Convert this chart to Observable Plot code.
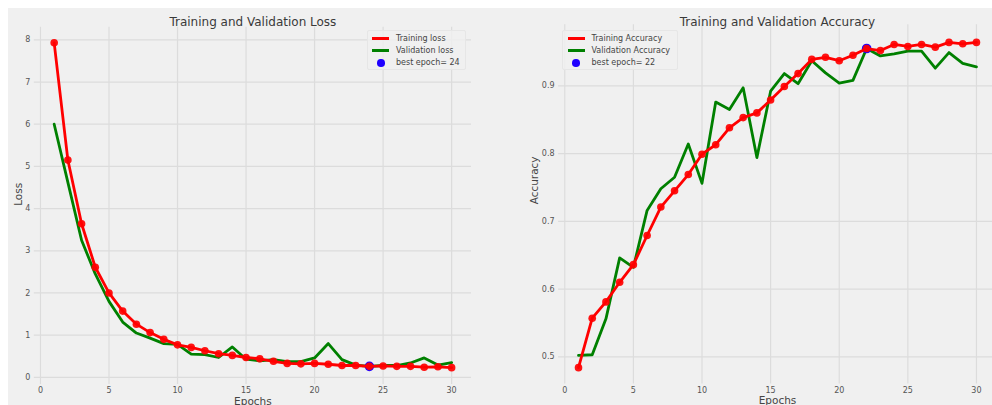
<!DOCTYPE html>
<html>
<head>
<meta charset="utf-8">
<script src="https://cdn.jsdelivr.net/npm/d3@7"></script>
<script src="https://cdn.jsdelivr.net/npm/@observablehq/plot@0.6"></script>
<style>
  html, body { margin: 0; padding: 0; background: #ffffff; }
  #fig { position: relative; width: 992px; height: 405px; overflow: hidden; background: #ffffff; font-family: "DejaVu Sans", sans-serif; }
  #bg { position: absolute; left: 8px; top: 8px; width: 984px; height: 397px; background: #f0f0f0; }
  .panel { position: absolute; top: 0; }
  .panel svg { overflow: visible; }
  .legend { position: absolute; background: rgba(240,240,240,0.8); border: 1px solid #e6e6e6; border-radius: 2px; box-sizing: border-box; font-size: 8px; color: #444; }
  .legend .sw { position: absolute; }
  .legend .txt { position: absolute; line-height: 12px; white-space: nowrap; }
</style>
</head>
<body>
<div id="fig">
  <div id="bg"></div>
  <div id="left" class="panel" style="left:0px"></div>
  <div id="right" class="panel" style="left:496px"></div>
</div>
<script>
// ---- data ----
const epochs = [1,2,3,4,5,6,7,8,9,10,11,12,13,14,15,16,17,18,19,20,21,22,23,24,25,26,27,28,29,30];
const trainLoss = [7.93,5.15,3.64,2.61,2.00,1.57,1.26,1.06,0.90,0.77,0.71,0.63,0.56,0.52,0.47,0.44,0.38,0.33,0.32,0.33,0.31,0.28,0.28,0.26,0.27,0.26,0.26,0.24,0.25,0.23];
const valLoss   = [6.00,4.62,3.25,2.45,1.80,1.31,1.05,0.93,0.80,0.78,0.55,0.54,0.47,0.72,0.43,0.39,0.42,0.37,0.37,0.46,0.80,0.42,0.29,0.26,0.28,0.28,0.34,0.46,0.29,0.35];
const trainAcc  = [0.484,0.557,0.581,0.610,0.636,0.679,0.721,0.745,0.769,0.799,0.813,0.838,0.853,0.860,0.879,0.899,0.918,0.939,0.942,0.937,0.945,0.955,0.952,0.961,0.958,0.961,0.957,0.964,0.962,0.964];
const valAcc    = [0.502,0.503,0.556,0.646,0.632,0.716,0.748,0.765,0.814,0.756,0.876,0.865,0.897,0.794,0.892,0.918,0.903,0.937,0.919,0.904,0.908,0.955,0.944,0.947,0.951,0.951,0.926,0.949,0.933,0.928];
const bestLossEpoch = 24;
const bestAccEpoch = 22;
const xTicks = [0,5,10,15,20,25,30];
const lossTicks = [0,1,2,3,4,5,6,7,8];
const accTicks = [0.5,0.6,0.7,0.8,0.9];
const titles = ["Training and Validation Loss", "Training and Validation Accuracy"];
const yLabels = ["Loss", "Accuracy"];
const xLabel = "Epochs";
const legendLoss = ["Training loss", "Validation loss", "best epoch= " + bestLossEpoch];
const legendAcc = ["Training Accuracy", "Validation Accuracy", "best epoch= " + bestAccEpoch];

const RED = "#ff0000", GREEN = "#008000", BLUE = "#1f00ff", GRID = "#dcdcdc";

function panel({train, val, best, yTicks, yDomain, xDomain, margins, title, titleDy, yLabel, yLabelDx, tickFmt}) {
  const rows = epochs.map((e, i) => ({epoch: e, train: train[i], val: val[i]}));
  const bestRow = rows.filter(r => r.epoch === best);
  const xMid = (-0.45 + 31.45) / 2;
  return Plot.plot({
    width: 496, height: 405,
    ...margins,
    style: {background: "transparent", fontFamily: "DejaVu Sans, sans-serif", fontSize: "8px", color: "#555", overflow: "visible"},
    x: {domain: xDomain},
    y: {domain: yDomain},
    marks: [
      Plot.gridX(xTicks, {stroke: GRID, strokeOpacity: 1, strokeWidth: 1.2}),
      Plot.gridY(yTicks, {stroke: GRID, strokeOpacity: 1, strokeWidth: 1.2}),
      Plot.axisX(xTicks, {tickSize: 0, tickPadding: 3, label: null, fill: "#555"}),
      Plot.axisY(yTicks, {tickSize: 0, tickPadding: 4, label: null, fill: "#555", tickFormat: tickFmt}),
      Plot.line(rows, {x: "epoch", y: "val", stroke: GREEN, strokeWidth: 2.8}),
      Plot.dot(bestRow, {x: "epoch", y: "val", r: 4.8, fill: BLUE, stroke: "none"}),
      Plot.line(rows, {x: "epoch", y: "train", stroke: RED, strokeWidth: 2.8}),
      Plot.dot(rows, {x: "epoch", y: "train", r: 3.8, fill: RED, stroke: "none", fillOpacity: 0.92}),
      Plot.text([title], {x: () => xMid, frameAnchor: "top", dy: titleDy, fontSize: 12, fill: "#3a3a3a", text: d => d}),
      Plot.text([xLabel], {x: () => xMid, frameAnchor: "bottom", dy: 20, fontSize: 10.5, fill: "#444", text: d => d}),
      Plot.text([yLabel], {frameAnchor: "left", dx: yLabelDx, rotate: -90, fontSize: 10.5, fill: "#444", text: d => d})
    ]
  });
}

const leftSvg = panel({
  train: trainLoss, val: valLoss, best: bestLossEpoch, yTicks: lossTicks,
  yDomain: [-0.17, 8.3], xDomain: [-0.45, 31.45],
  margins: {marginLeft: 33.8, marginRight: 25, marginTop: 26.7, marginBottom: 21},
  title: titles[0], titleDy: -9.5, yLabel: yLabels[0], yLabelDx: -16, tickFmt: d => String(d)
});
document.getElementById("left").appendChild(leftSvg);

const rightSvg = panel({
  train: trainAcc, val: valAcc, best: bestAccEpoch, yTicks: accTicks,
  yDomain: [0.46, 0.99], xDomain: [-0.45, 31.17],
  margins: {marginLeft: 62.1, marginRight: 0, marginTop: 24.3, marginBottom: 21.6},
  title: titles[1], titleDy: -7, yLabel: yLabels[1], yLabelDx: -24, tickFmt: d => d.toFixed(1)
});
document.getElementById("right").appendChild(rightSvg);

// ---- legends (HTML overlay) ----
function legend(box, labels, swatchX, textX, dotX) {
  const el = document.createElement("div");
  el.className = "legend";
  Object.assign(el.style, {left: box.x + "px", top: box.y + "px", width: box.w + "px", height: box.h + "px"});
  const rowsY = [7.5, 19.5, 32];
  labels.forEach((lab, i) => {
    const cy = rowsY[i];
    if (i === 2) {
      const d = document.createElement("div");
      d.className = "sw";
      Object.assign(d.style, {left: (dotX - 3.8) + "px", top: (cy - 3.8) + "px", width: "7.6px", height: "7.6px", borderRadius: "50%", background: BLUE});
      el.appendChild(d);
    } else {
      const l = document.createElement("div");
      l.className = "sw";
      Object.assign(l.style, {left: swatchX[0] + "px", top: (cy - 1.4) + "px", width: (swatchX[1] - swatchX[0]) + "px", height: "2.8px", background: i === 0 ? RED : GREEN});
      el.appendChild(l);
    }
    const t = document.createElement("div");
    t.className = "txt";
    t.textContent = lab;
    Object.assign(t.style, {left: textX + "px", top: (cy - 6) + "px"});
    el.appendChild(t);
  });
  document.getElementById("fig").appendChild(el);
}
legend({x: 367, y: 30, w: 99, h: 40}, legendLoss, [4, 21], 28, 13);
legend({x: 562, y: 30, w: 116, h: 40}, legendAcc, [4.5, 22], 28.5, 13);
</script>
</body>
</html>
